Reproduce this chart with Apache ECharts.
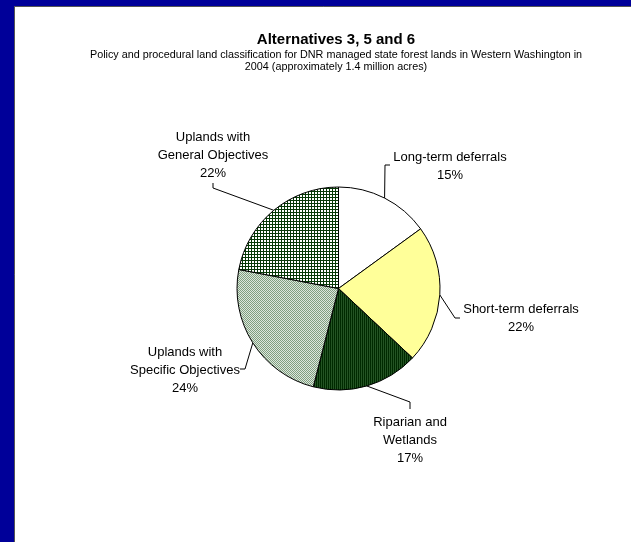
<!DOCTYPE html>
<html>
<head>
<meta charset="UTF-8">
<script src="https://cdn.jsdelivr.net/npm/echarts@6/dist/echarts.min.js"></script>
<style>
  html, body { margin: 0; padding: 0; background: #000099; }
  #chart { width: 631px; height: 542px; }
</style>
</head>
<body>
<div id="chart"></div>
<script>
// data
var categories = [
  'Long-term deferrals',
  'Short-term deferrals',
  'Riparian and\nWetlands',
  'Uplands with\nSpecific Objectives',
  'Uplands with\nGeneral Objectives'
];
var shares = [15, 22, 17, 24, 22];

var titleText = 'Alternatives 3, 5 and 6';
var subText = 'Policy and procedural land classification for DNR managed state forest lands in Western Washington in\n2004 (approximately 1.4 million acres)';

// where each label sits, and its leader line bend points
var labelPos = [
  { x: 450, y: 166, bend: [[385, 165], [390, 165]] },
  { x: 521, y: 318, bend: [[455, 318], [460, 318]] },
  { x: 410, y: 440, bend: [[410, 402], [410, 409]] },
  { x: 185, y: 370, bend: [[245, 369], [240, 369]] },
  { x: 213, y: 155, bend: [[213, 188], [213, 183]] }
];

// small fill patterns like the excel ones
function makePattern(w, h, draw) {
  var c = document.createElement('canvas');
  c.width = w; c.height = h;
  var g = c.getContext('2d');
  draw(g);
  return { image: c, repeat: 'repeat' };
}
var ripFill = makePattern(2, 1, function (g) {
  g.fillStyle = '#002a00'; g.fillRect(0, 0, 2, 1);
  g.fillStyle = '#245424'; g.fillRect(1, 0, 1, 1);
});
var specFill = makePattern(2, 2, function (g) {
  g.fillStyle = '#dde6dd'; g.fillRect(0, 0, 2, 2);
  g.fillStyle = '#7f9f7f'; g.fillRect(0, 0, 1, 1); g.fillRect(1, 1, 1, 1);
});
var genFill = makePattern(3, 3, function (g) {
  g.fillStyle = '#ffffff'; g.fillRect(0, 0, 3, 3);
  g.fillStyle = '#063806'; g.fillRect(0, 2, 3, 1); g.fillRect(2, 0, 1, 3);
});
var colors = ['#ffffff', '#ffff99', ripFill, specFill, genFill];

var chart = echarts.init(document.getElementById('chart'));
chart.setOption({
  backgroundColor: '#000099',
  animation: false,
  graphic: [{
    type: 'rect',
    shape: { x: 14.5, y: 6.5, width: 640, height: 560 },
    style: { fill: '#ffffff', stroke: '#555555', lineWidth: 1 },
    z: -10
  }],
  title: {
    text: titleText,
    subtext: subText,
    left: 331,
    top: 27,
    textAlign: 'center',
    itemGap: 2,
    textStyle: { fontFamily: 'Liberation Sans', fontSize: 15, fontWeight: 'bold', color: '#000' },
    subtextStyle: { fontFamily: 'Liberation Sans', fontSize: 10.8, color: '#000', lineHeight: 12 }
  },
  series: [{
    type: 'pie',
    center: [338.5, 288.5],
    radius: 101.5,
    startAngle: 90,
    clockwise: true,
    percentPrecision: 0,
    data: categories.map(function (name, i) {
      return { name: name, value: shares[i], itemStyle: { color: colors[i] } };
    }),
    itemStyle: { borderColor: '#000', borderWidth: 1 },
    label: {
      show: true,
      formatter: '{b}\n{d}%',
      fontFamily: 'Liberation Sans',
      fontSize: 13,
      lineHeight: 18,
      color: '#000',
      align: 'center'
    },
    labelLine: {
      show: true,
      lineStyle: { color: '#000', width: 1 }
    },
    labelLayout: function (p) {
      var lp = labelPos[p.dataIndex];
      var start = p.labelLinePoints ? p.labelLinePoints[0] : lp.bend[0];
      return {
        x: lp.x,
        y: lp.y,
        align: 'center',
        verticalAlign: 'middle',
        labelLinePoints: [start, lp.bend[0], lp.bend[1]]
      };
    },
    emphasis: { disabled: true }
  }]
});
</script>
</body>
</html>
